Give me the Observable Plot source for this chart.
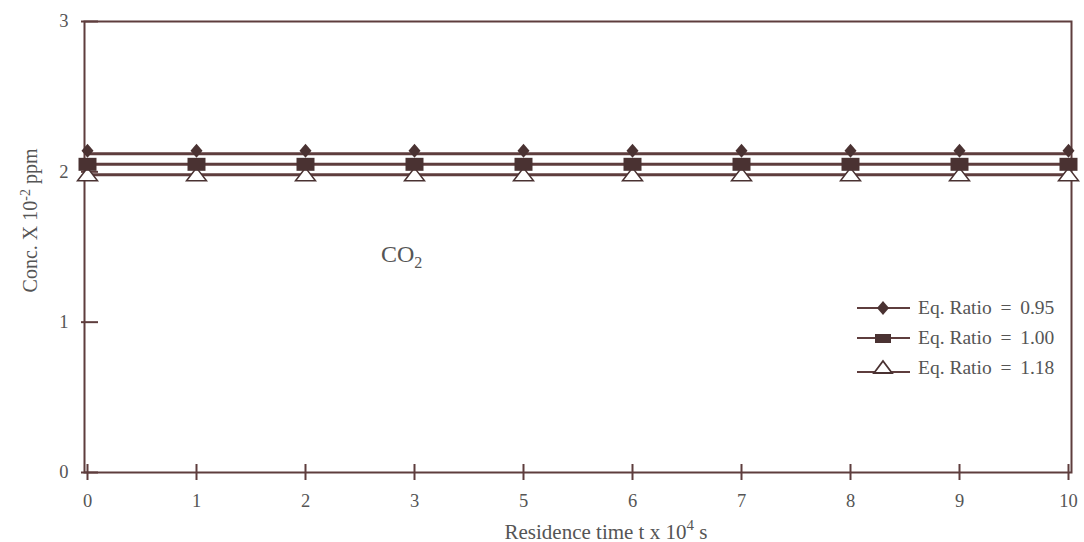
<!DOCTYPE html>
<html><head><meta charset="utf-8">
<script src="https://cdn.jsdelivr.net/npm/d3@7"></script>
<script src="https://cdn.jsdelivr.net/npm/@observablehq/plot@0.6"></script>
<style>
body{margin:0;background:#fff;}
#wrap{position:relative;width:1084px;height:542px;font-family:"Liberation Serif","Times New Roman",serif;color:#555;}
.ov{position:absolute;white-space:nowrap;line-height:1;}
#legend{position:absolute;font-size:19.5px;color:#555;}
#legend .row{display:flex;align-items:center;height:30px;}
#legend svg{margin-right:8px;}
</style></head><body><div id="wrap"></div>
<script>
// ---- data ----
const timeLabels = ["0","1","2","3","5","6","7","8","9","10"];
const ratio095 = [2.12,2.12,2.12,2.12,2.12,2.12,2.12,2.12,2.12,2.12];
const ratio100 = [2.05,2.05,2.05,2.05,2.05,2.05,2.05,2.05,2.05,2.05];
const ratio118 = [1.98,1.98,1.98,1.98,1.98,1.98,1.98,1.98,1.98,1.98];
const seriesNames = ["Eq. Ratio \u2009=\u2009 0.95","Eq. Ratio \u2009=\u2009 1.00","Eq. Ratio \u2009=\u2009 1.18"];
const yTicks = [0,1,2,3];
const speciesLabel = "CO";

const lineColor = "#5e3d3d";
const markColor = "#4a3232";
const textColor = "#555";

const toRows = (vals, name) => timeLabels.map((t,i)=>({t, v: vals[i], name}));
const rows095 = toRows(ratio095, seriesNames[0]);
const rows100 = toRows(ratio100, seriesNames[1]);
const rows118 = toRows(ratio118, seriesNames[2]);

const diamondSym = {draw(c){c.moveTo(0,-7);c.lineTo(6,0);c.lineTo(0,7);c.lineTo(-6,0);c.closePath();}};
const rectSym = {draw(c){c.rect(-9,-6.5,18,13);}};
const triSym = {draw(c){c.moveTo(0,-7);c.lineTo(10,6);c.lineTo(-10,6);c.closePath();}};

const chart = Plot.plot({
  width: 1084, height: 542,
  marginLeft: 84, marginRight: 13, marginTop: 21, marginBottom: 70,
  x: {type: "point", domain: timeLabels, padding: 0},
  y: {domain: [0, 3]},
  style: {fontFamily: '"Liberation Serif", serif', fontSize: "18.5px", color: textColor, background: "transparent"},
  marks: [
    Plot.frame({stroke: lineColor, strokeWidth: 2}),
    Plot.axisX({ticks: timeLabels, tickSize: 16, dy: -8, tickPadding: 13, label: null, stroke: lineColor, strokeWidth: 2, fill: textColor}),
    Plot.axisY({ticks: yTicks, tickSize: 17, dx: 14, tickPadding: 13, label: null, stroke: lineColor, strokeWidth: 2, fill: textColor, tickFormat: d3.format("d")}),
    Plot.lineY(rows095, {x: "t", y: "v", stroke: lineColor, strokeWidth: 3}),
    Plot.lineY(rows100, {x: "t", y: "v", stroke: lineColor, strokeWidth: 3}),
    Plot.lineY(rows118, {x: "t", y: "v", stroke: lineColor, strokeWidth: 3}),
    Plot.dot(rows118, {x: "t", y: "v", symbol: triSym, r: 5, fill: "white", stroke: markColor, strokeWidth: 1.5}),
    Plot.dot(rows100, {x: "t", y: "v", symbol: rectSym, r: 5, fill: markColor, stroke: "none"}),
    Plot.dot(rows095, {x: "t", y: "v", symbol: diamondSym, r: 5, fill: markColor, stroke: "none", dy: -3})
  ]
});

const wrap = document.getElementById("wrap");
wrap.appendChild(chart);
const sx = chart.scale("x"), sy = chart.scale("y");

// species label
const sp = document.createElement("div");
sp.className = "ov";
sp.style.fontSize = "24px";
sp.innerHTML = speciesLabel + '<sub style="font-size:16px;vertical-align:-6px">2</sub>';
sp.style.left = (sx.apply("3") - 33) + "px";
sp.style.top = (sy.apply(1.42) - 17) + "px";
wrap.appendChild(sp);

// y label
const yl = document.createElement("div");
yl.className = "ov";
yl.style.fontSize = "20px";
yl.innerHTML = 'Conc. X 10<sup style="font-size:14px;vertical-align:7px">-2</sup> ppm';
wrap.appendChild(yl);
const ylw = yl.offsetWidth, ylh = yl.offsetHeight;
yl.style.left = (30 - ylw/2) + "px";
yl.style.top = (220 - ylh/2) + "px";
yl.style.transform = "rotate(-90deg)";

// x label
const xl = document.createElement("div");
xl.className = "ov";
xl.style.fontSize = "21px";
xl.innerHTML = 'Residence time t x 10<sup style="font-size:15px;vertical-align:9px">4</sup> s';
wrap.appendChild(xl);
xl.style.left = (606 - xl.offsetWidth/2) + "px";
xl.style.top = "518px";

// legend
const lg = document.createElement("div");
lg.id = "legend";
const legendSyms = [
  '<path d="M26,2 L32,9 L26,16 L20,9 Z" fill="'+markColor+'"/>',
  '<rect x="18" y="5" width="16" height="9" fill="'+markColor+'"/>',
  '<path d="M26,2 L35,14 L17,14 Z" fill="white" stroke="'+markColor+'" stroke-width="1.8"/>'
];
seriesNames.forEach((n,i)=>{
  const r = document.createElement("div");
  r.className = "row";
  r.innerHTML = '<svg width="53" height="18"><line x1="0" x2="53" y1="'+(i===2?13:9)+'" y2="'+(i===2?13:9)+'" stroke="'+lineColor+'" stroke-width="2"/>'+legendSyms[i]+'</svg><span>'+n+'</span>';
  lg.appendChild(r);
});
lg.style.left = "857px";
lg.style.top = "293px";
wrap.appendChild(lg);
</script>
</body></html>
